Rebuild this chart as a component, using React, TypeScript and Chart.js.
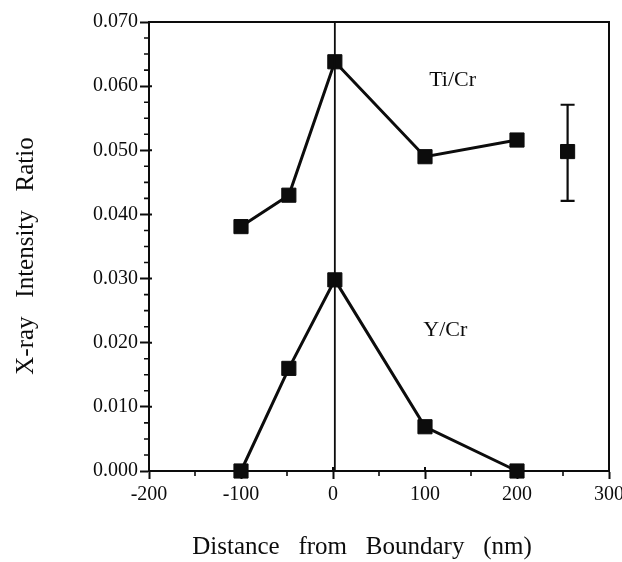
import React, { useEffect, useRef } from "react";
import { Chart, registerables } from "chart.js";

Chart.register(...registerables);

// ---- data ----
const tiX = [-100, -48, 2, 100, 200];
const tiY = [0.0381, 0.043, 0.0638, 0.049, 0.0516];
const yCrX = [-100, -48, 2, 100, 200];
const yCrY = [0.0, 0.016, 0.0298, 0.0069, 0.0];
const errX = [255];
const errY = [0.0498];
const errLow = [0.0421];
const errHigh = [0.0571];
const boundaryX = 2;
const xMajorTicks = [-200, -100, 0, 100, 200, 300];
const yMajorTicks = [0, 0.01, 0.02, 0.03, 0.04, 0.05, 0.06, 0.07];
const xMinorTicks = [-150, -50, 50, 150, 250];
const yMinorTicks = [
  0.0025, 0.005, 0.0075, 0.0125, 0.015, 0.0175, 0.0225, 0.025, 0.0275,
  0.0325, 0.035, 0.0375, 0.0425, 0.045, 0.0475, 0.0525, 0.055, 0.0575,
  0.0625, 0.065, 0.0675,
];
const seriesLabels = ["Ti/Cr", "Y/Cr"];
const labelPos = [
  [130, 0.061],
  [122, 0.022],
];
const xTitle = "Distance   from   Boundary   (nm)";
const yTitle = "X-ray   Intensity   Ratio";

const INK = "#0c0c0c";
const SERIF = '"Liberation Serif", "DejaVu Serif", serif';

const decor = {
  id: "decor",
  beforeDatasetsDraw(chart: any) {
    const { ctx, scales } = chart;
    const x = scales.x;
    const y = scales.y;
    ctx.save();
    ctx.strokeStyle = INK;
    ctx.lineWidth = 2.2;
    for (let i = 0; i < errX.length; i++) {
      const px = x.getPixelForValue(errX[i]);
      const pLo = y.getPixelForValue(errLow[i]);
      const pHi = y.getPixelForValue(errHigh[i]);
      ctx.beginPath();
      ctx.moveTo(px, pLo);
      ctx.lineTo(px, pHi);
      ctx.moveTo(px - 7, pLo);
      ctx.lineTo(px + 7, pLo);
      ctx.moveTo(px - 7, pHi);
      ctx.lineTo(px + 7, pHi);
      ctx.stroke();
    }
    ctx.restore();
  },
  afterDraw(chart: any) {
    const { ctx, chartArea: a, scales } = chart;
    const x = scales.x;
    const y = scales.y;
    ctx.save();
    ctx.strokeStyle = INK;
    ctx.lineWidth = 2;
    // frame: top & right
    ctx.beginPath();
    ctx.moveTo(a.left, a.top);
    ctx.lineTo(a.right, a.top);
    ctx.lineTo(a.right, a.bottom);
    ctx.stroke();
    // inward part of major ticks
    ctx.beginPath();
    for (const v of xMajorTicks) {
      const px = x.getPixelForValue(v);
      ctx.moveTo(px, a.bottom);
      ctx.lineTo(px, a.bottom - 4);
    }
    for (const v of yMajorTicks) {
      const py = y.getPixelForValue(v);
      ctx.moveTo(a.left, py);
      ctx.lineTo(a.left + 3, py);
    }
    ctx.stroke();
    // minor ticks
    ctx.lineWidth = 1.6;
    ctx.beginPath();
    for (const v of xMinorTicks) {
      const px = x.getPixelForValue(v);
      ctx.moveTo(px, a.bottom);
      ctx.lineTo(px, a.bottom + 5);
    }
    for (const v of yMinorTicks) {
      const py = y.getPixelForValue(v);
      ctx.moveTo(a.left - 5, py);
      ctx.lineTo(a.left + 1, py);
    }
    ctx.stroke();
    // series labels
    ctx.fillStyle = INK;
    ctx.font = `22px ${SERIF}`;
    ctx.textAlign = "center";
    ctx.textBaseline = "middle";
    for (let i = 0; i < seriesLabels.length; i++) {
      ctx.fillText(
        seriesLabels[i],
        x.getPixelForValue(labelPos[i][0]),
        y.getPixelForValue(labelPos[i][1])
      );
    }
    // axis titles
    ctx.font = `25px ${SERIF}`;
    ctx.textBaseline = "alphabetic";
    ctx.fillText(xTitle, 362, 554);
    ctx.translate(33, 256);
    ctx.rotate(-Math.PI / 2);
    ctx.fillText(yTitle, 0, 0);
    ctx.restore();
  },
};

export default function App() {
  const ref = useRef<HTMLCanvasElement>(null);
  useEffect(() => {
    if (!ref.current) return;
    const pts = (xs: number[], ys: number[]) => xs.map((v, i) => ({ x: v, y: ys[i] }));
    const markerStyle = {
      pointStyle: "rect" as const,
      pointRadius: 10,
      pointHoverRadius: 10,
      pointBackgroundColor: INK,
      pointBorderColor: INK,
      pointBorderWidth: 1,
    };
    const chart = new Chart(ref.current, {
      type: "line",
      data: {
        datasets: [
          {
            label: "boundary",
            data: [
              { x: boundaryX, y: 0 },
              { x: boundaryX, y: 0.07 },
            ],
            borderColor: INK,
            borderWidth: 1.8,
            pointRadius: 0,
            clip: false,
          } as any,
          {
            label: seriesLabels[0],
            data: pts(tiX, tiY),
            borderColor: INK,
            borderWidth: 3,
            ...markerStyle,
            clip: false,
          },
          {
            label: seriesLabels[1],
            data: pts(yCrX, yCrY),
            borderColor: INK,
            borderWidth: 3,
            ...markerStyle,
            clip: false,
          },
          {
            label: "error",
            data: pts(errX, errY),
            showLine: false,
            borderColor: INK,
            ...markerStyle,
            clip: false,
          },
        ],
      },
      options: {
        responsive: false,
        animation: false,
        layout: { padding: { top: 22, right: 13, left: 0, bottom: 0 } },
        plugins: {
          legend: { display: false },
          tooltip: { enabled: false },
          title: { display: false },
        },
        scales: {
          x: {
            type: "linear",
            min: -200,
            max: 300,
            afterFit: (s: any) => {
              s.height = 91;
              s.paddingRight = 0;
              s.paddingLeft = 0;
            },
            ticks: {
              stepSize: 100,
              color: INK,
              padding: 4,
              font: { family: SERIF, size: 20 },
              callback: (v: any) => String(v),
            },
            grid: {
              drawOnChartArea: false,
              drawTicks: true,
              tickLength: 8,
              tickWidth: 2,
              tickColor: INK,
              color: INK,
            },
            border: { display: true, color: INK, width: 2 },
          },
          y: {
            type: "linear",
            min: 0,
            max: 0.07,
            afterFit: (s: any) => {
              s.width = 149;
              s.paddingTop = 0;
              s.paddingBottom = 0;
            },
            ticks: {
              stepSize: 0.01,
              color: INK,
              padding: 2,
              font: { family: SERIF, size: 20 },
              callback: (v: any) => Number(v).toFixed(3),
            },
            grid: {
              drawOnChartArea: false,
              drawTicks: true,
              tickLength: 9,
              tickWidth: 2,
              tickColor: INK,
              color: INK,
            },
            border: { display: true, color: INK, width: 2 },
          },
        },
      },
      plugins: [decor],
    });
    return () => chart.destroy();
  }, []);
  return (
    <div style={{ position: "absolute", left: 0, top: 0, width: 622, height: 562, background: "#fff" }}>
      <canvas ref={ref} width={622} height={562} style={{ display: "block" }} />
    </div>
  );
}
